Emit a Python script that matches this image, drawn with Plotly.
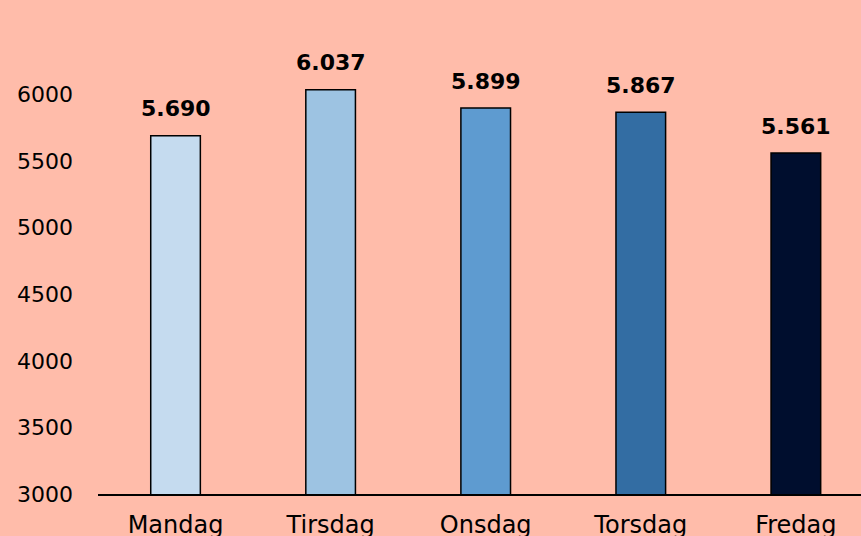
import plotly.graph_objects as go

days = ["Mandag", "Tirsdag", "Onsdag", "Torsdag", "Fredag"]
values = [5690, 6037, 5899, 5867, 5561]
labels = ["5.690", "6.037", "5.899", "5.867", "5.561"]
colors = ["#C5DBEF", "#9DC3E2", "#5E9BD0", "#336DA3", "#000E2E"]
yticks = [3000, 3500, 4000, 4500, 5000, 5500, 6000]

FONT = "DejaVu Sans"

fig = go.Figure(go.Bar(
    x=days, y=values,
    marker=dict(color=colors, line=dict(color="black", width=1.5)),
    width=0.32,
    cliponaxis=False,
))
for d, v, t in zip(days, values, labels):
    fig.add_annotation(x=d, y=v, text=f"<b>{t}</b>", showarrow=False,
                       yanchor="middle", yshift=27,
                       font=dict(family=FONT, size=22, color="black"))
fig.update_layout(
    width=861, height=536,
    paper_bgcolor="#FFBCAA", plot_bgcolor="#FFBCAA",
    margin=dict(l=98, r=0, t=28, b=42),
    font=dict(family=FONT, size=22, color="black"),
    showlegend=False,
)
fig.update_xaxes(range=[-0.5, 4.42], showline=True, linecolor="black", linewidth=2,
                 ticks="outside", ticklen=8, tickcolor="rgba(0,0,0,0)",
                 tickfont=dict(size=24, family=FONT), automargin=False)
fig.update_yaxes(range=[3000, 6500], tickvals=yticks, tickformat="d", showgrid=False,
                 zeroline=False, ticklabelstandoff=24, tickfont=dict(size=22, family=FONT),
                 automargin=False)
fig.write_html("out.html", config={"displayModeBar": False},
               post_script="document.body.style.margin='0';document.body.style.background='#FFBCAA';")
